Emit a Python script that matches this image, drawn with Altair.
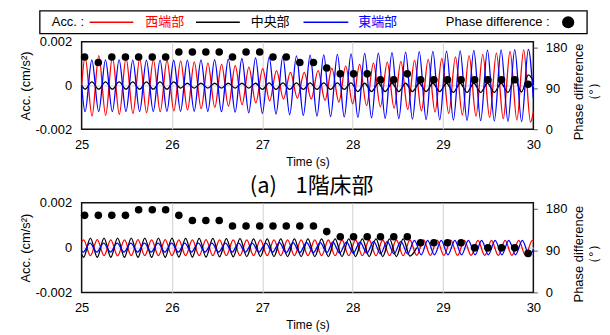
import altair as alt
import pandas as pd

FONT = "Liberation Sans"
JP = "Noto Sans CJK JP"

# ---------------- (a) upper panel : extrema of each acceleration trace ----------------
top_blue_t = [25.000, 25.038, 25.113, 25.189, 25.264, 25.340, 25.415, 25.491, 25.566, 25.642, 25.717,
              25.793, 25.868, 25.944, 26.019, 26.095, 26.170, 26.246, 26.321, 26.397, 26.472, 26.548,
              26.623, 26.699, 26.774, 26.850, 26.925, 27.001, 27.076, 27.152, 27.227, 27.303, 27.378,
              27.454, 27.529, 27.605, 27.680, 27.756, 27.831, 27.907, 27.982, 28.058, 28.133, 28.209,
              28.284, 28.360, 28.435, 28.511, 28.586, 28.662, 28.737, 28.813, 28.888, 28.964, 29.039,
              29.115, 29.190, 29.266, 29.341, 29.417, 29.492, 29.568, 29.643, 29.719, 29.794, 29.870,
              29.945, 30.000]
top_blue_v = [0.0,
              -0.00120, 0.00117, -0.00120, 0.00117, -0.00120, 0.00117, -0.00119, 0.00116, -0.00119, 0.00116,
              -0.00119, 0.00116, -0.00118, 0.00115, -0.00118, 0.00116, -0.00118, 0.00117, -0.00119, 0.00118,
              -0.00120, 0.00120, -0.00122, 0.00123, -0.00125, 0.00126, -0.00128, 0.00129, -0.00131, 0.00132,
              -0.00134, 0.00135, -0.00137, 0.00138, -0.00140, 0.00140, -0.00142, 0.00142, -0.00144, 0.00144,
              -0.00146, 0.00146, -0.00148, 0.00148, -0.00150, 0.00150, -0.00152, 0.00152, -0.00154, 0.00154,
              -0.00156, 0.00156, -0.00157, 0.00157, -0.00158, 0.00158, -0.00160, 0.00160, -0.00161, 0.00161,
              -0.00162, 0.00162, -0.00164, 0.00164, -0.00165, 0.00165,
              -0.00060]
top_black_v = [0.0,
               -0.00017, 0.00016, -0.00017, 0.00016, -0.00017, 0.00016, -0.00017, 0.00016, -0.00017, 0.00016,
               -0.00017, 0.00016, -0.00017, 0.00016,
               -0.00012, 0.00010, -0.00012, 0.00010, -0.00012, 0.00010, -0.00012, 0.00010, -0.00012, 0.00010,
               -0.00012, 0.00010,
               -0.00018, 0.00012, -0.00018, 0.00012, -0.00018, 0.00012, -0.00018, 0.00012, -0.00018, 0.00012,
               -0.00018, 0.00012, -0.00018, 0.00012,
               -0.00028, 0.00010, -0.00028, 0.00010, -0.00028, 0.00010, -0.00028, 0.00010, -0.00028, 0.00010,
               -0.00028, 0.00010, -0.00028, 0.00010,
               -0.00032, 0.00010, -0.00032, 0.00010, -0.00032, 0.00010, -0.00032, 0.00010,
               -0.00032, 0.00030, -0.00030, 0.00048,
               0.00020]
top_red_t = [25.000, 25.039,
             25.115, 25.190, 25.266, 25.341, 25.417, 25.492, 25.568, 25.643, 25.719, 25.794,
             25.870, 25.945, 26.021, 26.096, 26.172, 26.247, 26.323, 26.398, 26.474, 26.549,
             26.625, 26.700, 26.776, 26.851, 26.928, 27.004, 27.081, 27.157, 27.234, 27.311,
             27.388, 27.464, 27.541, 27.617, 27.694, 27.770, 27.847, 27.923, 28.000, 28.077,
             28.154, 28.230, 28.307, 28.383, 28.459, 28.534, 28.610, 28.685, 28.761, 28.836,
             28.912, 28.987, 29.063, 29.138, 29.214, 29.289, 29.365, 29.440, 29.516, 29.591,
             29.667, 29.742, 29.818, 29.893,
             29.969, 30.000]
top_red_v = [0.0, 0.00130,
             -0.00140, 0.00136, -0.00136, 0.00132, -0.00132, 0.00126, -0.00128, 0.00122, -0.00124, 0.00118,
             -0.00120, 0.00115, -0.00116, 0.00112, -0.00112, 0.00108, -0.00106, 0.00102, -0.00100, 0.00096,
             -0.00094, 0.00090, -0.00088, 0.00084, -0.00080, 0.00077, -0.00070, 0.00068, -0.00062, 0.00060,
             -0.00058, 0.00060, -0.00062, 0.00068, -0.00068, 0.00078, -0.00076, 0.00088, -0.00084, 0.00096,
             -0.00092, 0.00102, -0.00098, 0.00106, -0.00104, 0.00110, -0.00110, 0.00114, -0.00116, 0.00119,
             -0.00122, 0.00124, -0.00128, 0.00130, -0.00134, 0.00136, -0.00140, 0.00142, -0.00146, 0.00148,
             -0.00152, 0.00155, -0.00158, 0.00162,
             -0.00168, -0.00120]

# ---------------- lower panel ----------------
bot_red_t = [25.000,
             25.022, 25.097, 25.173, 25.248, 25.323, 25.398, 25.474, 25.549, 25.624, 25.699,
             25.775, 25.850, 25.925, 26.000, 26.076, 26.151, 26.226, 26.301, 26.377, 26.452,
             26.527, 26.602, 26.678, 26.753, 26.828, 26.903, 26.979, 27.054, 27.129, 27.204,
             27.280, 27.355, 27.430, 27.505, 27.581, 27.656, 27.731, 27.806, 27.882, 27.957,
             28.032, 28.107, 28.183, 28.258, 28.333, 28.408, 28.484, 28.559, 28.634, 28.709,
             28.785, 28.860, 28.935, 29.010, 29.086, 29.161, 29.236, 29.311, 29.387, 29.462,
             29.537, 29.612, 29.688, 29.763, 29.838, 29.913,
             29.989, 30.000]
bot_red_v = [0.00025,
             0.00035, -0.00036, 0.00036, -0.00036, 0.00035, -0.00037, 0.00035, -0.00036, 0.00036, -0.00036,
             0.00035, -0.00036, 0.00036, -0.00036, 0.00035, -0.00036, 0.00035, -0.00036, 0.00036, -0.00036,
             0.00035, -0.00036, 0.00035, -0.00036, 0.00035, -0.00036, 0.00035, -0.00036, 0.00035, -0.00036,
             0.00035, -0.00036, 0.00035, -0.00036, 0.00035, -0.00036, 0.00034, -0.00036, 0.00034, -0.00036,
             0.00034, -0.00036, 0.00034, -0.00036, 0.00034, -0.00036, 0.00034, -0.00036, 0.00034, -0.00035,
             0.00034, -0.00035, 0.00033, -0.00035, 0.00033, -0.00035, 0.00032, -0.00035, 0.00032, -0.00035,
             0.00032, -0.00035, 0.00032, -0.00035, 0.00032, -0.00034,
             0.00032, 0.00031]
bot_black_v = [-0.00030,
               -0.00043, 0.00042, -0.00043, 0.00042, -0.00043, 0.00042, -0.00043, 0.00042, -0.00043, 0.00042,
               -0.00043, 0.00042, -0.00043, 0.00042, -0.00042, 0.00041, -0.00042, 0.00041, -0.00042, 0.00041,
               -0.00041, 0.00040, -0.00041, 0.00040, -0.00040, 0.00039, -0.00040, 0.00039, -0.00040, 0.00039,
               -0.00040, 0.00039, -0.00040, 0.00039, -0.00040, 0.00039, -0.00040, 0.00039, -0.00040, 0.00039,
               -0.00040, 0.00039, -0.00040, 0.00039, -0.00040, 0.00039, -0.00040, 0.00039,
               -0.00038, 0.0]
bot_blue_t = [25.000, 25.018,
              25.093, 25.168, 25.244, 25.319, 25.394, 25.469, 25.545, 25.620, 25.695, 25.770,
              25.846, 25.921, 25.996, 26.071, 26.141, 26.216, 26.291, 26.366, 26.442, 26.517,
              26.592, 26.667, 26.738, 26.813, 26.888, 26.963, 27.039, 27.114, 27.189, 27.264,
              27.340, 27.415, 27.490, 27.565, 27.641, 27.716, 27.781, 27.856, 27.932, 28.007,
              28.082, 28.157, 28.233, 28.308, 28.383, 28.458, 28.534, 28.609, 28.684, 28.759,
              28.830, 28.905, 28.980, 29.055, 29.131, 29.206, 29.281, 29.356, 29.427, 29.502,
              29.577, 29.652, 29.728, 29.803, 29.878, 29.953,
              30.000]
bot_blue_v = [-0.00015, -0.00020,
              0.00020, -0.00020, 0.00020, -0.00020, 0.00020, -0.00020, 0.00020, -0.00020, 0.00020, -0.00020,
              0.00020, -0.00020, 0.00020, -0.00020, 0.00020, -0.00020, 0.00020, -0.00020, 0.00020, -0.00020,
              0.00020, -0.00020, 0.00020, -0.00020, 0.00020, -0.00020, 0.00020, -0.00020, 0.00022, -0.00022,
              0.00022, -0.00022, 0.00022, -0.00022, 0.00022, -0.00022, 0.00025, -0.00025, 0.00025, -0.00025,
              0.00025, -0.00025, 0.00028, -0.00028, 0.00028, -0.00028, 0.00028, -0.00028, 0.00032, -0.00032,
              0.00032, -0.00032, 0.00032, -0.00032, 0.00032, -0.00032, 0.00032, -0.00032, 0.00032, -0.00032,
              0.00032, -0.00032, 0.00032, -0.00032, 0.00032, -0.00032,
              -0.00010]

# ---------------- phase difference (deg) ----------------
phase_t = [25.033, 25.185, 25.334, 25.485, 25.631, 25.782, 25.930, 26.076, 26.226, 26.375, 26.523, 26.670,
           26.820, 26.971, 27.118, 27.265, 27.415, 27.566, 27.713, 27.863, 28.010, 28.161, 28.308, 28.455,
           28.605, 28.752, 28.899, 29.050, 29.200, 29.350, 29.497, 29.648, 29.794, 29.942]
top_phase = [159, 147, 159, 159, 159, 159, 159, 170, 170, 170, 170, 159, 170, 170, 159, 159, 147, 147,
             135, 122, 122, 122, 109, 109, 122, 109, 109, 109, 109, 109, 109, 109, 109, 99]
bot_phase = [166, 166, 166, 166, 178, 178, 178, 166, 155, 155, 155, 143, 143, 143, 143, 143, 143, 143,
             131, 120, 120, 120, 120, 120, 120, 107, 107, 107, 107, 96, 96, 96, 96, 84]

series_names = ["西端部", "中央部", "東端部"]
series_colors = ["#FF0000", "#000000", "#0000FF"]
x_ticks = [25, 26, 27, 28, 29, 30]
acc_ticks = [-0.002, 0, 0.002]
phase_ticks = [0, 90, 180]
caption_parts = ["(a)", "1階床部"]

W = 454
GRID = "#d0d0d0"

x_axis = alt.Axis(values=x_ticks, format="d", ticks=False, domain=False, grid=True,
                  gridColor={"condition": {"test": "datum.value == 25 || datum.value == 30",
                                           "value": "transparent"}, "value": GRID},
                  labelPadding=9, titlePadding=5, labelFlush=False, title="Time (s)",
                  titleFontSize=12)
y_axis = alt.Axis(values=acc_ticks, ticks=False, domain=False, grid=True,
                  gridColor={"condition": {"test": "datum.value != 0", "value": "transparent"},
                             "value": GRID},
                  labelExpr="datum.value == 0 ? '0' : '' + datum.value",
                  labelPadding=10, titlePadding=3, labelFlush=False, title="Acc. (cm/s²)")
x_scale = alt.Scale(domain=[25, 30], nice=False, zero=False)
y_scale = alt.Scale(domain=[-0.002, 0.002], nice=False)
p_scale = alt.Scale(domain=[0, 193], nice=False)


def line(t, v, color):
    df = pd.DataFrame({"t": t, "acc": v})
    return alt.Chart(df).mark_line(color=color, strokeWidth=1.3, interpolate="monotone").encode(
        x=alt.X("t:Q", scale=x_scale, axis=x_axis),
        y=alt.Y("acc:Q", scale=y_scale, axis=y_axis),
    )


def panel(red, black, blue, phase, h, title_y):
    lines = alt.layer(red, black, blue)
    dots = alt.Chart(pd.DataFrame({"t": phase_t, "ph": phase})).mark_circle(
        size=58, color="black", opacity=1).encode(
        x=alt.X("t:Q", scale=x_scale, axis=x_axis),
        y=alt.Y("ph:Q", scale=p_scale, axis=alt.Axis(
            orient="right", values=phase_ticks, domain=False, grid=False, tickSize=4,
            tickColor="#555555", labelPadding=8, labelFlush=False,
            title=["Phase difference", "（°）"], titleAngle=270, titlePadding=4,
            titleY=title_y)),
    )
    return alt.layer(lines, dots).resolve_scale(y="independent").properties(
        width=W, height=h, view=alt.ViewBackground(stroke="#111111", strokeWidth=1.5))


top = panel(line(top_red_t, top_red_v, series_colors[0]),
            line(top_blue_t, top_black_v, series_colors[1]),
            line(top_blue_t, top_blue_v, series_colors[2]),
            top_phase, 88, 50)
bottom = panel(line(bot_red_t, bot_red_v, series_colors[0]),
               line(bot_red_t[:len(bot_black_v)], bot_black_v, series_colors[1]),
               line(bot_blue_t, bot_blue_v, series_colors[2]),
               bot_phase, 90, 51)

# ---------------- legend row ----------------
one = pd.DataFrame({"a": [0]})
base = alt.Chart(one)
LY = 12.5
leg_parts = [
    base.mark_rect(fill="white", stroke="black", strokeWidth=1.3).encode(
        x=alt.value(-42), x2=alt.value(508), y=alt.value(1), y2=alt.value(24)),
    base.mark_text(align="left", baseline="middle", font=FONT, fontSize=13, color="black").encode(
        x=alt.value(-30), y=alt.value(LY), text=alt.value("Acc. :")),
    base.mark_text(align="left", baseline="middle", font=FONT, fontSize=13, color="black").encode(
        x=alt.value(366), y=alt.value(LY), text=alt.value("Phase difference :")),
    base.mark_circle(size=150, color="black", opacity=1).encode(x=alt.value(489), y=alt.value(LY)),
]
leg_line_x = [(8, 52), (115, 159), (223, 268)]
leg_text_x = [64, 170, 278]
for name, col, (a, b), tx in zip(series_names, series_colors, leg_line_x, leg_text_x):
    leg_parts.append(base.mark_rule(color=col, strokeWidth=1.3).encode(
        x=alt.value(a), x2=alt.value(b), y=alt.value(LY)))
    leg_parts.append(base.mark_text(align="left", baseline="middle", font=JP, fontSize=13, color=col).encode(
        x=alt.value(tx), y=alt.value(LY), text=alt.value(name)))
legend = alt.layer(*leg_parts).properties(
    width=W, height=32, view=alt.ViewBackground(stroke="transparent"))

cap_style = dict(align="left", baseline="middle", font=JP, fontSize=22, color="black")
caption = alt.layer(
    base.mark_text(**cap_style).encode(x=alt.value(169), y=alt.value(57), text=alt.value(caption_parts[0])),
    base.mark_text(**cap_style).encode(x=alt.value(215), y=alt.value(57), text=alt.value(caption_parts[1])),
).properties(width=W, height=74, view=alt.ViewBackground(stroke="transparent"))

chart = alt.vconcat(legend, top, caption, bottom, spacing=0, bounds="flush").properties(
    padding={"left": 10, "top": 0, "right": 0, "bottom": 0}
).configure(font=FONT).configure_axis(
    labelFont=FONT, titleFont=FONT, labelFontSize=13, titleFontSize=13, titleFontWeight="normal",
    labelColor="black", titleColor="black"
)

chart.save("out.html", embed_options={"renderer": "svg", "actions": False})
